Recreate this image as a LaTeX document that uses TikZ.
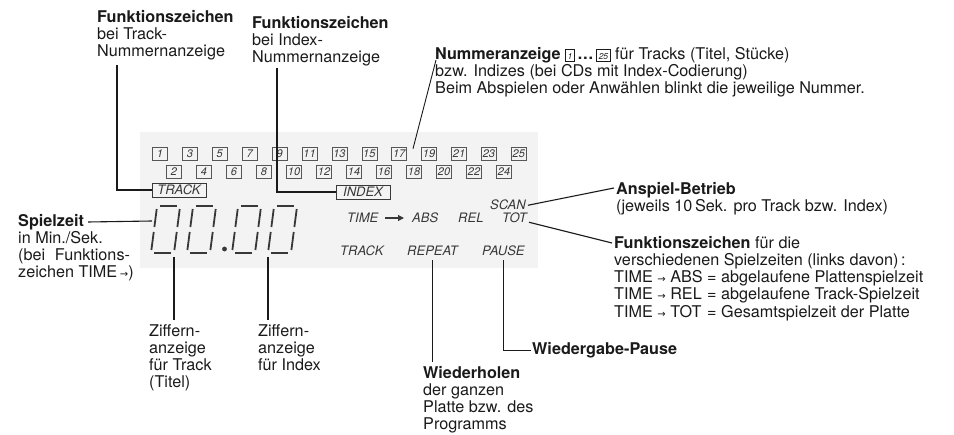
\documentclass[tikz,border=0pt]{standalone}
\usepackage{fontspec}
\setmainfont{TeX Gyre Heros}
\newfontfamily\djv{DejaVu Sans}
\usetikzlibrary{arrows.meta}
\definecolor{ink}{HTML}{1A1A1A}
\definecolor{lcd}{HTML}{383838}
\definecolor{lcdbg}{HTML}{F3F3F3}
\newcommand\boxnr[1]{{\setlength\fboxsep{0.9pt}\setlength\fboxrule{0.5pt}\fbox{\rule[-0.5pt]{0pt}{9.5pt}\kern1pt\fontsize{8.5}{8.5}\selectfont\itshape #1\kern1pt}}}
\newcommand\smarr{{\djv\fontsize{10}{10}\selectfont →}}
\tikzset{
  lab/.style={anchor=north west, inner sep=0pt, align=left, font=\fontsize{16.2}{17.2}\selectfont, text=ink},
  lcdtxt/.style={anchor=base west, inner sep=0pt, font=\fontsize{13}{13}\selectfont\itshape, text=lcd},
  numbox/.style={draw=lcd!85, line width=0.6pt, minimum height=13pt, minimum width=15pt, inner xsep=1.2pt, inner ysep=0pt, font=\fontsize{11}{11}\selectfont\itshape, text=lcd},
  wordbox/.style={draw=lcd, line width=0.7pt, minimum width=54pt, minimum height=14pt, inner sep=0pt, font=\fontsize{13}{13}\selectfont\itshape, text=lcd},
  lead/.style={draw=ink, line width=1.1pt},
  digitline/.style={draw=lcd, line width=1.8pt},
  seg8/.pic={
    \foreach \ua/\ta/\ub/\tb in {3/0/20/0, 0/3/0/21, 23/3/23/21, 0/26/0/44, 23/26/23/44, 3/47/20/47}
      \draw[digitline] ({\ua+0.13*(47-\ta)},\ta) -- ({\ub+0.13*(47-\tb)},\tb);
  },
}
\begin{document}
\begin{tikzpicture}[x=1pt,y=-1pt]
\useasboundingbox (0,0) rectangle (954,435);
\fill[lcdbg] (140,132) rectangle (538,268);

% number display boxes
\foreach \n [count=\k from 0] in {1,3,...,25}
  \node[numbox] (b\n) at ({160+29.9*\k},153.5) {\n};
\foreach \n [count=\k from 0] in {2,4,...,24}
  \node[numbox] (b\n) at ({174+30*\k},172) {\n};

% word boxes
\node[wordbox] (trk) at (179,190) {TRACK};
\node[wordbox] (idx) at (363,192) {INDEX};

% display words
\node[lcdtxt] (scan) at (490,210) {SCAN};
\node[lcdtxt] (time) at (347,223) {TIME};
\node[lcdtxt] (abs) at (412,223) {ABS};
\node[lcdtxt] (rel) at (458,223) {REL};
\node[lcdtxt] (tot) at (502,223) {TOT};
\node[lcdtxt] (trk2) at (340,256) {TRACK};
\node[lcdtxt] (rep) at (407,256) {REPEAT};
\node[lcdtxt] (pause) at (482,256) {PAUSE};
\draw[lcd, line width=1.1pt, -{Triangle[length=6pt,width=6pt]}]
  ([shift={(7,-5)}]time.base east) -- ([shift={(-8,-5)}]abs.base west);

% big digits
\foreach \X in {151,187,232,268}
  \pic at (\X,206) {seg8};
\fill[lcd] (224.5,249) circle (2.4);
\coordinate (d1l) at (152,221);
\coordinate (d1b) at (174,257);
\coordinate (d4b) at (268,257);

% labels
\node[lab] (ftrack) at (97,10) {\textbf{Funktionszeichen}\\bei Track-\\Nummernanzeige};
\node[lab] (findex) at (252,16) {\textbf{Funktionszeichen}\\bei Index-\\Nummernanzeige};
\node[lab] (numanz) at (435,47) {\textbf{Nummeranzeige} \boxnr{1}\,\textbf{\dots}\,\boxnr{25} für Tracks (Titel, Stücke)\\bzw. Indizes (bei CDs mit Index-Codierung)\\Beim Abspielen oder Anwählen blinkt die jeweilige Nummer.};
\node[lab] (spielT) at (18,214) {\textbf{Spielzeit}};
\node[lab] (spielB) at (18,231) {in Min./Sek.\\(bei\hspace{0.6em}Funktions-\\zeichen TIME\,\smarr)};
\node[lab] (zif1) at (149,324) {Ziffern-\\anzeige\\für Track\\(Titel)};
\node[lab] (zif2) at (258,324) {Ziffern-\\anzeige\\für Index};
\node[lab] (wied) at (423,366) {\textbf{Wiederholen}\\der ganzen\\Platte bzw. des\\Programms};
\node[lab, anchor=base west] (wpause) at (532,355) {\textbf{Wiedergabe-Pause}};
\node[lab] (ansp) at (616,182) {\textbf{Anspiel-Betrieb}\\(jeweils 10\,Sek. pro Track bzw. Index)};
\node[lab] (fzeit) at (614,236) {\textbf{Funktionszeichen} für die\\verschiedenen Spielzeiten (links davon)\,:\\
  \makebox[93pt][l]{TIME \smarr\ ABS}= abgelaufene Plattenspielzeit\\
  \makebox[93pt][l]{TIME \smarr\ REL}= abgelaufene Track-Spielzeit\\
  \makebox[93pt][l]{TIME \smarr\ TOT}= Gesamtspielzeit der Platte};

% leaders
\draw[lead] ([shift={(20,5)}]ftrack.south west) |- (trk.west);
\draw[lead] ([shift={(25,2)}]findex.south west) |- (idx.west);
\draw[lead, line width=0.9pt] ([shift={(1,13)}]numanz.north west) -- ([shift={(6,2)}]b17.north east);
\draw[lead] ([shift={(4,0)}]spielT.east) -- (d1l);
\draw[lead, shorten >=4pt] (d1b) -- (d1b |- zif1.north);
\draw[lead, shorten >=4pt] (d4b) -- (d4b |- zif2.north);
\draw[lead, shorten <=4pt, shorten >=4pt] (rep.south) -- (rep.south |- wied.north);
\draw[lead, shorten <=4pt] (pause.south) |- ([shift={(-1,0)}]wpause.west);
\draw[lead] ([shift={(2,0)}]scan.east) -- ([shift={(-2,6)}]ansp.north west);
\draw[lead] ([shift={(2,4)}]tot.east) -- ([shift={(-2,7)}]fzeit.north west);
\end{tikzpicture}
\end{document}
